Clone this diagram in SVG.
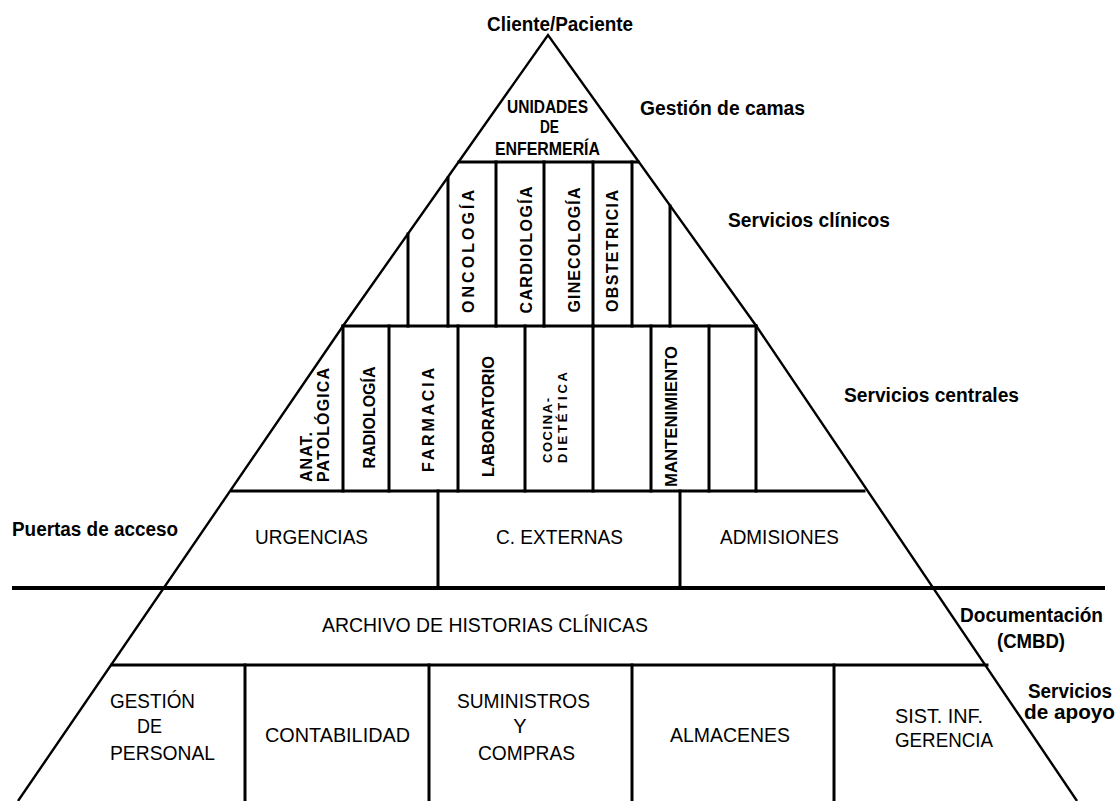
<svg xmlns="http://www.w3.org/2000/svg" width="1120" height="801" viewBox="0 0 1120 801">
  <style>
    .edge { fill: none; stroke: #000; stroke-width: 2.4; stroke-linejoin: miter; }
    .rule { stroke: #000; stroke-width: 3; stroke-linecap: square; }
    .heavy { stroke: #000; stroke-width: 4; }
    .side { font-family: "Liberation Sans", Arial, sans-serif; font-weight: bold; font-size: 20px; fill: #000; }
    .box { font-family: "Liberation Sans", Arial, sans-serif; font-size: 20px; fill: #000; }
    .vert { font-family: "Liberation Sans", Arial, sans-serif; font-weight: bold; font-size: 16px; fill: #000; }
    .small { font-family: "Liberation Sans", Arial, sans-serif; font-weight: bold; font-size: 13px; fill: #000; }
    .top { font-family: "Liberation Sans", Arial, sans-serif; font-weight: bold; font-size: 18px; fill: #000; }
  </style>
  <rect width="1120" height="801" fill="#fff"/>

  <!-- pyramid outline and internal partitions -->
  <g id="connectors">
    <polyline class="edge" points="18,801 343,326 548,35 757,327 1077,801"/>
    <!-- tier separators -->
    <line class="rule" x1="459" y1="162" x2="638" y2="162"/>
    <line class="rule" x1="343" y1="326" x2="756" y2="326"/>
    <line class="rule" x1="232" y1="491" x2="864" y2="491"/>
    <line class="heavy" x1="12" y1="588" x2="1105" y2="588"/>
    <line class="rule" x1="112" y1="665" x2="987" y2="665"/>
    <!-- clinical services columns -->
    <line class="rule" x1="408" y1="234" x2="408" y2="326"/>
    <line class="rule" x1="448" y1="178" x2="448" y2="326"/>
    <line class="rule" x1="496" y1="162" x2="496" y2="326"/>
    <line class="rule" x1="544" y1="162" x2="544" y2="326"/>
    <line class="rule" x1="593" y1="162" x2="593" y2="326"/>
    <line class="rule" x1="632" y1="162" x2="632" y2="326"/>
    <line class="rule" x1="670" y1="206" x2="670" y2="326"/>
    <!-- central services columns -->
    <line class="rule" x1="343" y1="326" x2="343" y2="491"/>
    <line class="rule" x1="389" y1="326" x2="389" y2="491"/>
    <line class="rule" x1="458" y1="326" x2="458" y2="491"/>
    <line class="rule" x1="525" y1="326" x2="525" y2="491"/>
    <line class="rule" x1="593" y1="326" x2="593" y2="491"/>
    <line class="rule" x1="651" y1="326" x2="651" y2="491"/>
    <line class="rule" x1="709" y1="326" x2="709" y2="491"/>
    <line class="rule" x1="756" y1="326" x2="756" y2="491"/>
    <!-- access doors -->
    <line class="rule" x1="438" y1="491" x2="438" y2="588"/>
    <line class="rule" x1="680" y1="491" x2="680" y2="588"/>
    <!-- support services -->
    <line class="rule" x1="245" y1="665" x2="245" y2="801"/>
    <line class="rule" x1="429" y1="665" x2="429" y2="801"/>
    <line class="rule" x1="632" y1="665" x2="632" y2="801"/>
    <line class="rule" x1="834" y1="665" x2="834" y2="801"/>
  </g>

  <!-- side labels -->
  <g id="label-cliente"><text class="side" x="487" y="31" textLength="146" lengthAdjust="spacingAndGlyphs">Cliente/Paciente</text></g>
  <g id="label-camas"><text class="side" x="640" y="115" textLength="165" lengthAdjust="spacingAndGlyphs">Gestión de camas</text></g>
  <g id="label-clinicos"><text class="side" x="728" y="227" textLength="162" lengthAdjust="spacingAndGlyphs">Servicios clínicos</text></g>
  <g id="label-centrales"><text class="side" x="844" y="402" textLength="175" lengthAdjust="spacingAndGlyphs">Servicios centrales</text></g>
  <g id="label-puertas"><text class="side" x="12" y="536" textLength="166" lengthAdjust="spacingAndGlyphs">Puertas de acceso</text></g>
  <g id="label-documentacion">
    <text class="side" x="960" y="622" textLength="143" lengthAdjust="spacingAndGlyphs">Documentación</text>
    <text class="side" x="997" y="648" textLength="68" lengthAdjust="spacingAndGlyphs">(CMBD)</text>
  </g>
  <g id="label-apoyo">
    <text class="side" x="1028" y="698" textLength="84" lengthAdjust="spacingAndGlyphs">Servicios</text>
    <text class="side" x="1024" y="719" textLength="91" lengthAdjust="spacingAndGlyphs">de apoyo</text>
  </g>

  <!-- nursing units (apex) -->
  <g id="node-enfermeria">
    <text class="top" x="507" y="113" textLength="81" lengthAdjust="spacingAndGlyphs">UNIDADES</text>
    <text class="top" x="540" y="133" textLength="19" lengthAdjust="spacingAndGlyphs">DE</text>
    <text class="top" x="495" y="155" textLength="105" lengthAdjust="spacingAndGlyphs">ENFERMERÍA</text>
  </g>

  <!-- clinical services -->
  <g id="node-oncologia"><text class="vert" text-anchor="middle" transform="translate(473.5,251.5) rotate(-90)" textLength="123">ONCOLOGÍA</text></g>
  <g id="node-cardiologia"><text class="vert" text-anchor="middle" transform="translate(531.5,250) rotate(-90)" textLength="127">CARDIOLOGÍA</text></g>
  <g id="node-ginecologia"><text class="vert" text-anchor="middle" transform="translate(579.5,250) rotate(-90)" textLength="125">GINECOLOGÍA</text></g>
  <g id="node-obstetricia"><text class="vert" text-anchor="middle" transform="translate(617.5,251) rotate(-90)" textLength="122">OBSTETRICIA</text></g>

  <!-- central services -->
  <g id="node-anatomia">
    <text class="vert" transform="translate(311.5,482) rotate(-90)" textLength="50">ANAT.</text>
    <text class="vert" transform="translate(328.5,482) rotate(-90)" textLength="114">PATOLÓGICA</text>
  </g>
  <g id="node-radiologia"><text class="vert" text-anchor="middle" transform="translate(375,417.5) rotate(-90)" textLength="102">RADIOLOGÍA</text></g>
  <g id="node-farmacia"><text class="vert" text-anchor="middle" transform="translate(433.5,420) rotate(-90)" textLength="104">FARMACIA</text></g>
  <g id="node-laboratorio"><text class="vert" text-anchor="middle" transform="translate(494,416.5) rotate(-90)" textLength="121" lengthAdjust="spacingAndGlyphs">LABORATORIO</text></g>
  <g id="node-cocina">
    <text class="small" transform="translate(551.5,463) rotate(-90)" textLength="65">COCINA-</text>
    <text class="small" transform="translate(566.5,463) rotate(-90)" textLength="91">DIETÉTICA</text>
  </g>
  <g id="node-mantenimiento"><text class="vert" text-anchor="middle" transform="translate(676.5,416.5) rotate(-90)" textLength="141" lengthAdjust="spacingAndGlyphs">MANTENIMIENTO</text></g>

  <!-- access doors -->
  <g id="node-urgencias"><text class="box" x="255" y="544" textLength="113" lengthAdjust="spacingAndGlyphs">URGENCIAS</text></g>
  <g id="node-externas"><text class="box" x="496" y="544" textLength="127" lengthAdjust="spacingAndGlyphs">C. EXTERNAS</text></g>
  <g id="node-admisiones"><text class="box" x="720" y="544" textLength="119" lengthAdjust="spacingAndGlyphs">ADMISIONES</text></g>

  <!-- records archive -->
  <g id="node-archivo"><text class="box" x="322" y="632" textLength="326" lengthAdjust="spacingAndGlyphs">ARCHIVO DE HISTORIAS CLÍNICAS</text></g>

  <!-- support services -->
  <g id="node-personal">
    <text class="box" x="110" y="708" textLength="85" lengthAdjust="spacingAndGlyphs">GESTIÓN</text>
    <text class="box" x="137" y="733" textLength="25" lengthAdjust="spacingAndGlyphs">DE</text>
    <text class="box" x="110" y="760" textLength="105" lengthAdjust="spacingAndGlyphs">PERSONAL</text>
  </g>
  <g id="node-contabilidad"><text class="box" x="265" y="742" textLength="145" lengthAdjust="spacingAndGlyphs">CONTABILIDAD</text></g>
  <g id="node-suministros">
    <text class="box" x="457" y="708" textLength="133" lengthAdjust="spacingAndGlyphs">SUMINISTROS</text>
    <text class="box" x="520" y="733" text-anchor="middle">Y</text>
    <text class="box" x="478" y="760" textLength="97" lengthAdjust="spacingAndGlyphs">COMPRAS</text>
  </g>
  <g id="node-almacenes"><text class="box" x="670" y="742" textLength="120" lengthAdjust="spacingAndGlyphs">ALMACENES</text></g>
  <g id="node-gerencia">
    <text class="box" x="895" y="723" textLength="88" lengthAdjust="spacingAndGlyphs">SIST. INF.</text>
    <text class="box" x="895" y="747" textLength="98" lengthAdjust="spacingAndGlyphs">GERENCIA</text>
  </g>
</svg>
